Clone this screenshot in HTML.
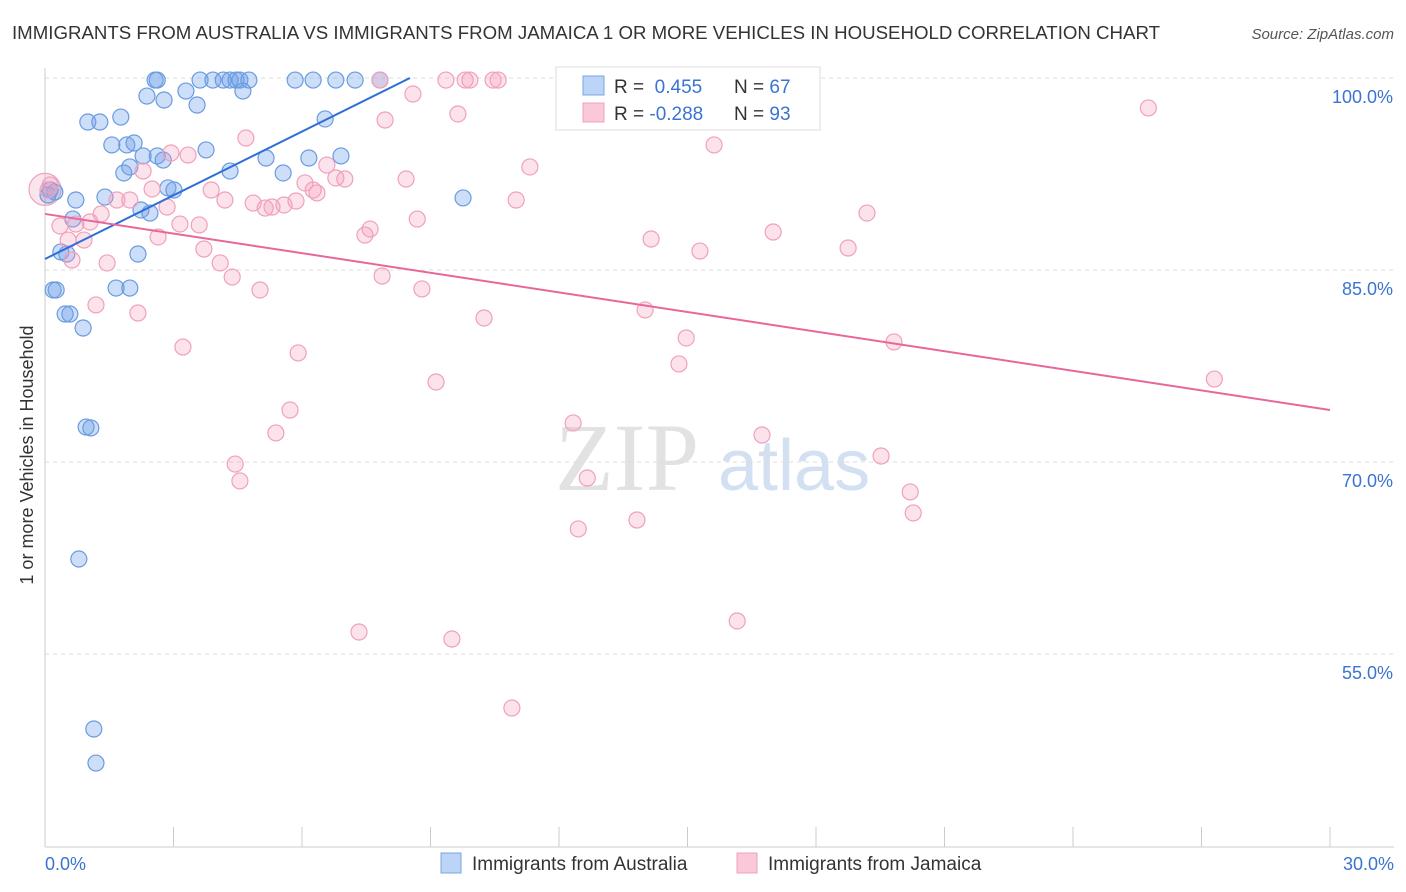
<!DOCTYPE html>
<html><head><meta charset="utf-8">
<style>
body{margin:0;background:#fff;font-family:"Liberation Sans",sans-serif;}
#wrap{position:relative;width:1406px;height:892px;overflow:hidden;}
</style></head>
<body>
<div id="wrap">
<svg id="svg" width="1406" height="892" xmlns="http://www.w3.org/2000/svg">
<text x="12" y="39" font-size="18" fill="#333" textLength="1148" lengthAdjust="spacingAndGlyphs">IMMIGRANTS FROM AUSTRALIA VS IMMIGRANTS FROM JAMAICA 1 OR MORE VEHICLES IN HOUSEHOLD CORRELATION CHART</text>
<text x="1394" y="39" font-size="15" fill="#555" font-style="italic" text-anchor="end">Source: ZipAtlas.com</text>
<text x="33" y="455" font-size="18" fill="#333" text-anchor="middle" transform="rotate(-90 33 455)">1 or more Vehicles in Household</text>
<g>
<text x="555" y="490" font-size="96" fill="#e2e2e2" font-family="Liberation Serif,serif">ZIP</text>
<text x="718" y="490" font-size="72" fill="#d3e0f2">atlas</text>
</g>
<g id="grid"></g>
<g id="pts"></g>
<g id="lines"></g>
<g>
<rect x="556" y="67" width="264" height="63" fill="#fff" stroke="#ddd"/>
<rect x="583" y="76" width="21" height="19" fill="#bcd4f5" stroke="#7aa6e3"/>
<rect x="583" y="103" width="21" height="19" fill="#f9c9d8" stroke="#f0a0bc"/>
<text x="614" y="93" font-size="19" fill="#333">R = <tspan fill="#3a74d0">&#160;0.455</tspan></text>
<text x="734" y="93" font-size="19" fill="#333">N = <tspan fill="#3a74d0">67</tspan></text>
<text x="614" y="120" font-size="19" fill="#333">R = <tspan fill="#3a74d0">-0.288</tspan></text>
<text x="734" y="120" font-size="19" fill="#333">N = <tspan fill="#3a74d0">93</tspan></text>
</g>
<g>
<rect x="441" y="853" width="20" height="20" fill="#bcd4f5" stroke="#7aa6e3"/>
<text x="472" y="870" font-size="19" fill="#333">Immigrants from Australia</text>
<rect x="737" y="853" width="20" height="20" fill="#f9c9d8" stroke="#f0a0bc"/>
<text x="768" y="870" font-size="19" fill="#333">Immigrants from Jamaica</text>
</g>
</svg>
</div>
<script>
const yTicks=[55,70,85,100];
const xTickLabels=["0.0%","30.0%"];
const blueX=[2.62,2.57,3.62,3.92,4.16,4.32,4.46,4.55,4.76,5.84,6.26,6.79,7.24,7.82,12.26,3.29,2.38,2.78,3.55,4.62,1.00,1.28,1.77,1.56,1.91,2.08,3.76,2.29,2.62,2.76,5.16,6.16,6.91,4.32,1.84,1.98,5.56,2.87,3.01,1.40,0.72,2.24,2.45,0.65,9.76,6.54,0.37,0.51,2.17,0.19,0.26,1.66,1.98,0.47,0.58,0.89,0.96,1.07,0.79,1.14,1.19,0.12,0.23,0.07];
const blueY=[99.84,99.84,99.84,99.84,99.84,99.84,99.84,99.84,99.84,99.84,99.84,99.84,99.84,99.84,99.84,98.98,98.59,98.28,97.89,98.98,96.56,96.56,96.95,94.77,94.77,94.92,94.38,93.91,93.91,93.59,93.75,93.75,93.91,92.73,92.58,93.05,92.58,91.41,91.25,90.70,90.47,89.69,89.45,88.98,90.63,96.80,86.41,86.25,86.25,83.44,83.44,83.59,83.59,81.56,81.56,80.47,72.73,72.66,62.42,49.14,46.48,91.25,91.09,90.86];
const pinkX=[7.82,9.36,9.81,9.92,10.46,10.58,25.76,9.64,8.59,7.94,4.69,15.62,11.32,3.34,2.94,2.29,2.50,3.88,4.20,2.85,1.98,1.68,1.31,1.05,0.72,0.35,0.54,0.91,2.64,3.15,3.60,4.86,5.14,5.30,5.58,5.86,6.07,6.26,6.35,6.58,6.79,7.00,8.43,11.00,8.69,7.59,7.47,3.71,4.09,4.37,5.02,1.45,0.63,1.19,2.17,3.22,5.91,7.87,8.80,10.25,14.15,15.29,17.00,18.75,19.19,14.01,14.97,14.80,19.82,27.30,9.13,5.72,5.39,12.33,16.74,19.52,4.44,4.55,12.66,20.20,20.27,12.45,13.82,7.33,9.50,16.16,10.90,0.12,0.07];
const pinkY=[99.84,99.84,99.84,99.84,99.84,99.84,97.66,97.19,98.75,96.72,95.31,94.77,93.05,93.98,94.14,92.73,91.33,91.25,90.47,89.92,90.47,90.47,89.38,88.75,88.59,88.44,87.34,87.34,87.58,88.59,88.52,90.23,89.84,89.92,90.08,90.39,91.80,91.25,91.02,93.20,92.19,92.11,92.11,90.47,88.98,88.20,87.73,86.64,85.55,84.45,83.44,85.55,85.78,82.27,81.64,78.98,78.52,84.53,83.52,81.25,87.42,86.48,87.97,86.72,89.45,81.88,79.69,77.66,79.38,76.48,76.25,74.06,72.27,73.05,72.11,70.47,69.84,68.52,68.75,67.66,66.02,64.77,65.47,56.72,56.17,57.58,50.78,91.64,91.25];
const blueTrend=[[0,85.86],[8.52,100]];
const pinkTrend=[[0,89.38],[30,74.06]];
const X=v=>45+v/30*1285;
const Y=v=>78+(100-v)/15*192;
const NS="http://www.w3.org/2000/svg";
function mk(tag,attrs,parent){const e=document.createElementNS(NS,tag);for(const k in attrs)e.setAttribute(k,attrs[k]);parent.appendChild(e);return e;}
const grid=document.getElementById('grid');
yTicks.forEach(t=>{
 const l=mk('line',{x1:45,x2:1394,y1:Y(t),y2:Y(t),stroke:'#ddd','stroke-dasharray':'4,4'},grid);
 
 
 const tx=mk('text',{x:1393,y:Y(t)+25,'font-size':18,fill:'#3a74d0','text-anchor':'end'},grid);
 tx.textContent=t.toFixed(1)+'%';
 
 
});
mk('line',{x1:45,x2:45,y1:68,y2:847,stroke:'#ccc'},grid);
mk('line',{x1:45,x2:1394,y1:847,y2:847,stroke:'#ccc'},grid);
for(let i=0;i<=10;i++){const t=mk('line',{x1:X(i*3),x2:X(i*3),y1:827,y2:847,stroke:'#ccc'},grid);
 
 }
const xl0=mk('text',{x:45,y:870,'font-size':18,fill:'#3a74d0'},grid);xl0.textContent=xTickLabels[0];


const xl1=mk('text',{x:1394,y:870,'font-size':18,fill:'#3a74d0','text-anchor':'end'},grid);xl1.textContent=xTickLabels[1];


const pts=document.getElementById('pts');
const big=mk('circle',{cx:X(0),cy:Y(91.3),r:16,fill:'rgba(240,150,180,0.25)',stroke:'#f0a0bc','stroke-width':1.2},pts);


blueX.forEach((v,i)=>{const c=mk('circle',{cx:X(v),cy:Y(blueY[i]),r:8,fill:'rgba(110,160,235,0.35)',stroke:'#6a9be0','stroke-width':1.2},pts);
 
 });
pinkX.forEach((v,i)=>{const c=mk('circle',{cx:X(v),cy:Y(pinkY[i]),r:8,fill:'rgba(245,160,190,0.3)',stroke:'#f0a0bc','stroke-width':1.2},pts);
 
 });
const lines=document.getElementById('lines');
const bl=mk('line',{x1:X(blueTrend[0][0]),y1:Y(blueTrend[0][1]),x2:X(blueTrend[1][0]),y2:Y(blueTrend[1][1]),stroke:'#2f6fd6','stroke-width':2},lines);


const pl=mk('line',{x1:X(pinkTrend[0][0]),y1:Y(pinkTrend[0][1]),x2:X(pinkTrend[1][0]),y2:Y(pinkTrend[1][1]),stroke:'#e8679a','stroke-width':2},lines);


</script>
</body></html>
